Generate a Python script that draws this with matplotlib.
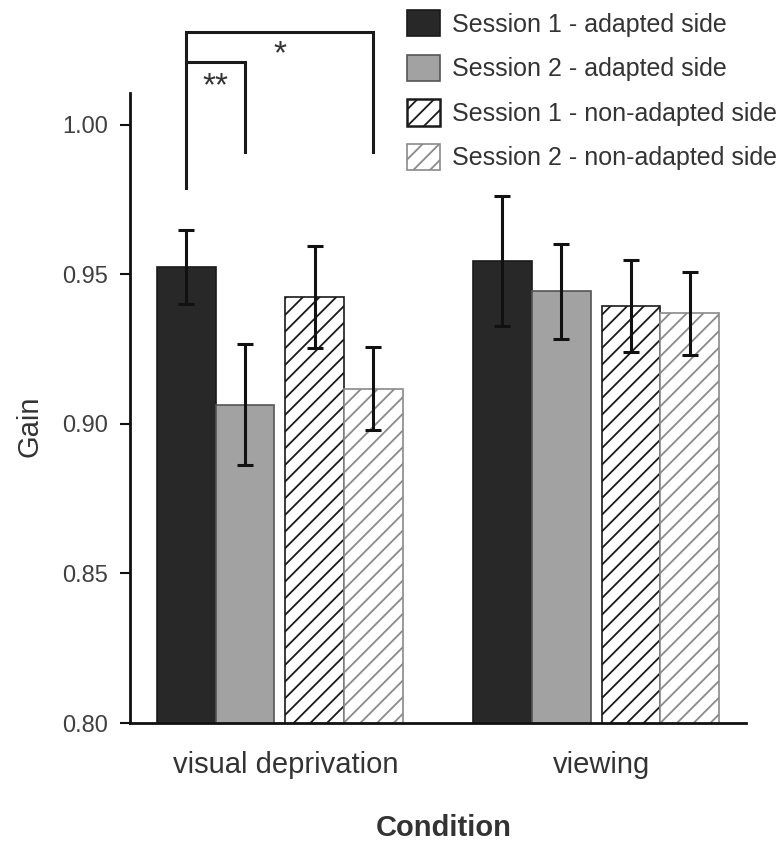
import numpy as np
import matplotlib
matplotlib.use('Agg')
import matplotlib.pyplot as plt
from matplotlib.patches import Patch

plt.rcParams['font.family'] = ['Liberation Sans', 'DejaVu Sans']
plt.rcParams['hatch.linewidth'] = 1.3

conditions = ['visual deprivation', 'viewing']
series = ['Session 1 - adapted side', 'Session 2 - adapted side',
          'Session 1 - non-adapted side', 'Session 2 - non-adapted side']

s1_adapted = [0.9525, 0.9545]
s2_adapted = [0.9065, 0.9444]
s1_nonadapted = [0.9425, 0.9395]
s2_nonadapted = [0.9118, 0.9370]

s1_adapted_err = [0.0125, 0.0218]
s2_adapted_err = [0.0201, 0.0159]
s1_nonadapted_err = [0.0171, 0.0153]
s2_nonadapted_err = [0.0139, 0.0140]

means = [s1_adapted, s2_adapted, s1_nonadapted, s2_nonadapted]
errs = [s1_adapted_err, s2_adapted_err, s1_nonadapted_err, s2_nonadapted_err]

fills = ['#282828', '#a2a2a2', 'white', 'white']
edges = ['#1a1a1a', '#555555', '#1a1a1a', '#8a8a8a']
hatches = [None, None, '//', '//']
text_col = '#333333'

fig = plt.figure(figsize=(7.84, 8.41), dpi=100)
ax = fig.add_axes([130 / 784, 118 / 841, 616 / 784, 630 / 841])

group_x = np.array([0.0, 3.162])
width = 0.587
offsets = [-0.9355, -0.3485, 0.3485, 0.9355]

for i in range(4):
    x = group_x + offsets[i]
    ax.bar(x, means[i], width, color=fills[i], edgecolor=edges[i],
           hatch=hatches[i], linewidth=1.2, zorder=2)
    ax.errorbar(x, means[i], yerr=errs[i], fmt='none', ecolor='#111111',
                elinewidth=2.2, capsize=5.5, capthick=2.2, zorder=3)

ax.set_xlim(-1.498, 4.662)
ax.set_ylim(0.8, 1.0107)
ax.set_yticks([0.80, 0.85, 0.90, 0.95, 1.00])
ax.set_yticklabels(['0.80', '0.85', '0.90', '0.95', '1.00'])
ax.set_xticks(group_x + 0.06)
ax.set_xticklabels(conditions)

ax.spines['top'].set_visible(False)
ax.spines['right'].set_visible(False)
ax.spines['left'].set_linewidth(2.0)
ax.spines['bottom'].set_linewidth(2.0)
ax.spines['left'].set_color('#111111')
ax.spines['bottom'].set_color('#111111')

ax.tick_params(axis='y', direction='out', length=7.5, width=1.5, color='#111111',
               pad=8, labelsize=17, labelcolor='#404040')
ax.tick_params(axis='x', length=0, pad=20, labelsize=21, labelcolor=text_col)

ax.set_ylabel('Gain', fontsize=21, color=text_col)
ax.yaxis.set_label_coords(-0.141, 0.471)
ax.set_xlabel('Condition', fontsize=21, fontweight='bold', color=text_col)
ax.xaxis.set_label_coords(0.51, -0.144)

# significance brackets (visual deprivation group)
xa = group_x[0] + offsets[0]
xb = group_x[0] + offsets[1]
xd = group_x[0] + offsets[3]
bk = dict(color='#1a1a1a', lw=2.2, clip_on=False, solid_joinstyle='miter')
ax.plot([xa, xa, xd, xd], [0.9789, 1.0310, 1.0310, 0.9910], **bk)
ax.plot([xa, xb, xb], [1.0210, 1.0210, 0.9910], **bk)
ax.text((xa + xd) / 2, 1.0205, '*', ha='center', va='baseline',
        fontsize=24, color=text_col, clip_on=False)
ax.text((xa + xb) / 2, 1.0098, '**', ha='center', va='baseline',
        fontsize=24, color=text_col, clip_on=False)

handles = [Patch(facecolor=fills[i], edgecolor=edges[i], hatch=hatches[i],
                 linewidth=1.8 if i == 2 else 1.2) for i in range(4)]
fig.legend(handles, series, loc='upper left',
           bbox_to_anchor=(407 / 784, 1 - 10 / 841), frameon=False,
           fontsize=18, handlelength=1.3, handleheight=1.25,
           handletextpad=0.5, labelspacing=0.72, borderpad=0,
           borderaxespad=0, labelcolor=text_col)

fig.savefig('out.png', dpi=100)
